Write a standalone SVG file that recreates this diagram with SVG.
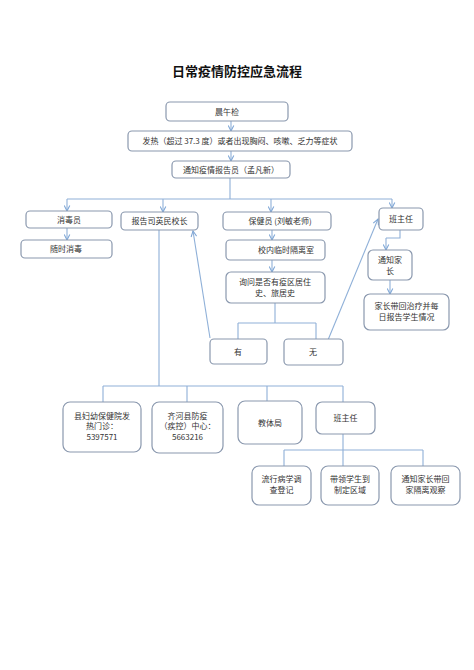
<svg xmlns="http://www.w3.org/2000/svg" width="474" height="670" viewBox="0 0 474 670">
<defs>
<marker id="ah" viewBox="0 0 10 10" refX="9" refY="5" markerWidth="7" markerHeight="7" orient="auto" markerUnits="userSpaceOnUse">
<path d="M1,1 L9,5 L1,9" fill="none" stroke="#7ea6d6" stroke-width="1.5"/>
</marker>
</defs>
<style>
.b{fill:#fff;stroke:#8a98ae;stroke-width:1.2}
.t{font-family:"Noto Sans CJK SC","Liberation Sans",sans-serif;font-size:8px;fill:#333;text-anchor:middle}
.c{fill:none;stroke:#8fb0d8;stroke-width:1.1}
.a{fill:none;stroke:#8fb0d8;stroke-width:1.1;marker-end:url(#ah)}
</style>
<rect width="474" height="670" fill="#fff"/>
<text x="237" y="76" style="font-family:'Noto Sans CJK SC',sans-serif;font-size:13px;font-weight:bold;fill:#111;text-anchor:middle">日常疫情防控应急流程</text>

<g id="connectors">
<path class="a" d="M231,121 V131"/>
<path class="a" d="M231,151 V161"/>
<path class="c" d="M230,178 V199 M67,199 H392"/>
<path class="a" d="M67,199 V211"/>
<path class="a" d="M163,199 V212"/>
<path class="a" d="M271,199 V212"/>
<path class="a" d="M392,199 V208"/>
<path class="a" d="M67,228 V240"/>
<path class="a" d="M272,230 V240"/>
<path class="a" d="M272,260 V272"/>
<path class="c" d="M275,303 V323 M238,323 H316 M238,323 V339 M316,323 V339"/>
<path class="a" d="M210,338 L193,231"/>
<path class="a" d="M328,340 L378,219"/>
<path class="c" d="M400,230 V238 H386"/>
<path class="a" d="M386,238 V250"/>
<path class="a" d="M390,280 V294"/>
<path class="c" d="M159,230 V386 M103,386 H343 M103,386 V402 M187,386 V402 M267,386 V401 M343,386 V402"/>
<path class="c" d="M343,434 V466 M284,450 H423 M284,450 V466 M423,450 V466"/>
</g>

<g id="n1"><rect class="b" x="166" y="102" width="122" height="19" rx="4"/><text class="t" x="227" y="114.5">晨午检</text></g>
<g id="n2"><rect class="b" x="128" y="131" width="224" height="20" rx="4"/><text class="t" x="240" y="144">发热（超过 37.3 度）或者出现胸闷、咳嗽、乏力等症状</text></g>
<g id="n3"><rect class="b" x="172" y="161" width="118" height="17" rx="4"/><text class="t" x="231" y="172.5">通知疫情报告员（孟凡新）</text></g>
<g id="n4"><rect class="b" x="26" y="211" width="86" height="17" rx="4"/><text class="t" x="69" y="222.5">消毒员</text></g>
<g id="n5"><rect class="b" x="21" y="240" width="91" height="18" rx="4"/><text class="t" x="66" y="252">随时消毒</text></g>
<g id="n6"><rect class="b" x="121" y="212" width="77" height="18" rx="4"/><text class="t" x="159.5" y="224">报告司英民校长</text></g>
<g id="n7"><rect class="b" x="223" y="212" width="108" height="18" rx="4"/><text class="t" x="280" y="224">保健员 (刘敏老师)</text></g>
<g id="n8"><rect class="b" x="226" y="240" width="99" height="20" rx="4"/><text class="t" x="286" y="253">校内临时隔离室</text></g>
<g id="n9"><rect class="b" x="226" y="272" width="99" height="31" rx="5"/><text class="t" x="275" y="285">询问是否有疫区居住</text><text class="t" x="275" y="296">史、旅居史</text></g>
<g id="n10"><rect class="b" x="210" y="339" width="57" height="25" rx="4"/><text class="t" x="238" y="354.5">有</text></g>
<g id="n11"><rect class="b" x="284" y="339" width="59" height="26" rx="4"/><text class="t" x="313" y="355">无</text></g>
<g id="n12"><rect class="b" x="379" y="208" width="44" height="22" rx="4"/><text class="t" x="401" y="221.5">班主任</text></g>
<g id="n13"><rect class="b" x="368" y="250" width="44" height="30" rx="5"/><text class="t" x="390" y="263">通知家</text><text class="t" x="390" y="274">长</text></g>
<g id="n14"><rect class="b" x="364" y="294" width="85" height="36" rx="6"/><text class="t" x="406.5" y="309">家长带回治疗并每</text><text class="t" x="406.5" y="320">日报告学生情况</text></g>
<g id="n15"><rect class="b" x="63" y="402" width="78" height="50" rx="7"/><text class="t" x="102" y="419">县妇幼保健院发</text><text class="t" x="102" y="429">热门诊：</text><text class="t" x="102" y="440">5397571</text></g>
<g id="n16"><rect class="b" x="152" y="402" width="71" height="51" rx="7"/><text class="t" x="187.5" y="419">齐河县防疫</text><text class="t" x="187.5" y="429">（疾控）中心：</text><text class="t" x="187.5" y="440">5663216</text></g>
<g id="n17"><rect class="b" x="238" y="401" width="64" height="43" rx="7"/><text class="t" x="270" y="425.5">教体局</text></g>
<g id="n18"><rect class="b" x="316" y="402" width="59" height="32" rx="6"/><text class="t" x="345.5" y="421">班主任</text></g>
<g id="n19"><rect class="b" x="252" y="466" width="59" height="39" rx="7"/><text class="t" x="281.5" y="482">流行病学调</text><text class="t" x="281.5" y="493">查登记</text></g>
<g id="n20"><rect class="b" x="321" y="466" width="58" height="39" rx="7"/><text class="t" x="350" y="482">带领学生到</text><text class="t" x="350" y="493">制定区域</text></g>
<g id="n21"><rect class="b" x="391" y="466" width="69" height="39" rx="7"/><text class="t" x="425.5" y="482">通知家长带回</text><text class="t" x="425.5" y="493">家隔离观察</text></g>
</svg>
